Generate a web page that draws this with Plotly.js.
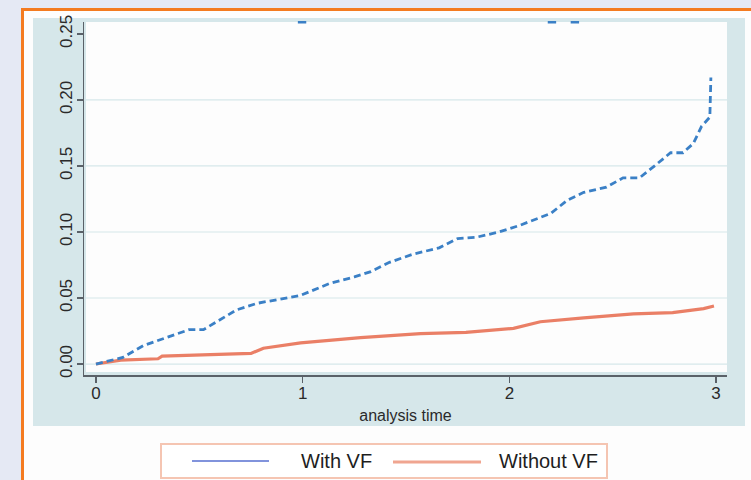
<!DOCTYPE html>
<html>
<head>
<meta charset="utf-8">
<script src="https://cdn.plot.ly/plotly-3.0.1.min.js"></script>
<style>
html,body{margin:0;padding:0;background:#e5e9f4;}
#chart{width:751px;height:480px;}
</style>
</head>
<body>
<div id="chart"></div>
<script>
// ---- data ----
const withVF_t = [0, 0.13, 0.23, 0.34, 0.45, 0.52, 0.62, 0.68, 0.78, 0.91, 0.99, 1.13, 1.25, 1.33, 1.42, 1.53, 1.66, 1.75, 1.84, 1.95, 2.05, 2.20, 2.28, 2.36, 2.47, 2.55, 2.63, 2.71, 2.78, 2.84, 2.89, 2.93, 2.97, 2.975];
const withVF_y = [0, 0.005, 0.014, 0.020, 0.026, 0.026, 0.035, 0.041, 0.046, 0.050, 0.052, 0.061, 0.066, 0.070, 0.077, 0.083, 0.088, 0.095, 0.096, 0.100, 0.105, 0.114, 0.124, 0.130, 0.134, 0.141, 0.141, 0.151, 0.160, 0.160, 0.167, 0.180, 0.187, 0.217];
const withoutVF_t = [0, 0.12, 0.30, 0.32, 0.75, 0.81, 0.99, 1.28, 1.57, 1.79, 2.02, 2.15, 2.36, 2.60, 2.79, 2.94, 2.99];
const withoutVF_y = [0, 0.003, 0.004, 0.006, 0.008, 0.012, 0.016, 0.020, 0.023, 0.024, 0.027, 0.032, 0.035, 0.038, 0.039, 0.042, 0.044];
const strayMarks_t = [0.997, 2.206, 2.317];
const strayMarks_y = [0.2588, 0.2588, 0.2588];
const yTicks = [0, 0.05, 0.10, 0.15, 0.20, 0.25];
const yTickLabels = ["0.00", "0.05", "0.10", "0.15", "0.20", "0.25"];
const gridValues = [0, 0.05, 0.10, 0.15, 0.20];
const xTicks = [0, 1, 2, 3];
const xTickLabels = ["0", "1", "2", "3"];
const seriesNames = ["With VF", "Without VF"];
const xTitle = "analysis time";

// ---- layout geometry (pixels) ----
const W = 751, H = 480, ML = 84, MR = 24, MT = 22, MB = 105;
const PW = W - ML - MR, PH = H - MT - MB;
const px = x => (x - ML) / PW;
const py = y => 1 - (y - MT) / PH;

const FONT = 'Liberation Sans, Arial, sans-serif';
const BLUE = '#3b80c6';
const SALMON = '#ea7f66';

const shapes = [
  {type:'rect', xref:'paper', yref:'paper', x0:px(22.5), x1:px(770), y0:py(9.5), y1:py(500),
   line:{color:'#f47b20', width:3}, fillcolor:'#fdfdfd', layer:'below'},
  {type:'rect', xref:'paper', yref:'paper', x0:px(33), x1:px(745), y0:py(18), y1:py(426),
   line:{width:0}, fillcolor:'#d6e7ea', layer:'below'},
  {type:'rect', xref:'paper', yref:'paper', x0:px(86), x1:px(727), y0:py(372), y1:py(22),
   line:{width:0}, fillcolor:'#fdfdfd', layer:'below'},
];
gridValues.forEach(v => shapes.push({type:'line', xref:'paper', yref:'y', x0:px(86), x1:px(727), y0:v, y1:v,
  line:{color:'#d6e7ea', width:1.2}, layer:'below'}));
shapes.push({type:'rect', xref:'paper', yref:'paper', x0:px(161), x1:px(607), y0:py(444), y1:py(478),
  line:{color:'#f5c5b2', width:2}, fillcolor:'#ffffff', layer:'above'});
shapes.push({type:'line', xref:'paper', yref:'paper', x0:px(192), x1:px(269), y0:py(461), y1:py(461),
  line:{color:'#8193dc', width:2}});
shapes.push({type:'line', xref:'paper', yref:'paper', x0:px(393), x1:px(481), y0:py(462), y1:py(462),
  line:{color:'#f0a590', width:3}});

const annotations = [
  {xref:'paper', yref:'paper', x:px(299), y:py(461), xanchor:'left', yanchor:'middle', showarrow:false,
   text:seriesNames[0], font:{family:FONT, size:20, color:'#1e1e1e'}},
  {xref:'paper', yref:'paper', x:px(497), y:py(461), xanchor:'left', yanchor:'middle', showarrow:false,
   text:seriesNames[1], font:{family:FONT, size:20, color:'#1e1e1e'}},
];

const traces = [
  {x:withoutVF_t, y:withoutVF_y, type:'scatter', mode:'lines', name:seriesNames[1],
   line:{color:SALMON, width:3.2, shape:'linear'}, showlegend:false},
  {x:withVF_t, y:withVF_y, type:'scatter', mode:'lines', name:seriesNames[0],
   line:{color:BLUE, width:2.8, shape:'linear', dash:'7px,4px'}, showlegend:false},
  {x:strayMarks_t, y:strayMarks_y, type:'scatter', mode:'markers', cliponaxis:false,
   marker:{symbol:'line-ew', size:6, color:BLUE, line:{color:BLUE, width:2.5}}, showlegend:false, hoverinfo:'skip'},
];

const layout = {
  width:W, height:H,
  margin:{l:ML, r:MR, t:MT, b:MB, pad:0},
  paper_bgcolor:'#e5e9f4',
  plot_bgcolor:'rgba(0,0,0,0)',
  showlegend:false,
  font:{family:FONT, color:'#2a2a2a'},
  xaxis:{
    range:[-0.058, 3.053], tickvals:xTicks, ticktext:xTickLabels,
    showgrid:false, zeroline:false, showline:true, linecolor:'#5a6168', linewidth:1.5,
    ticks:'outside', ticklen:6, tickwidth:1.5, tickcolor:'#5a6168',
    tickfont:{family:FONT, size:17, color:'#2a2a2a'}, ticklabelstandoff:-4,
    title:{text:xTitle, font:{family:FONT, size:16, color:'#2a2a2a'}, standoff:8}
  },
  yaxis:{
    range:[-0.0083, 0.259], tickvals:yTicks, ticktext:yTickLabels, tickangle:-90,
    showgrid:false, zeroline:false, showline:true, linecolor:'#5a6168', linewidth:1.5,
    ticks:'outside', ticklen:6, tickwidth:1.5, tickcolor:'#5a6168',
    tickfont:{family:FONT, size:17, color:'#2a2a2a'}, ticklabelstandoff:-2
  },
  shapes:shapes,
  annotations:annotations
};

Plotly.newPlot('chart', traces, layout, {displayModeBar:false, staticPlot:true});
</script>
</body>
</html>
